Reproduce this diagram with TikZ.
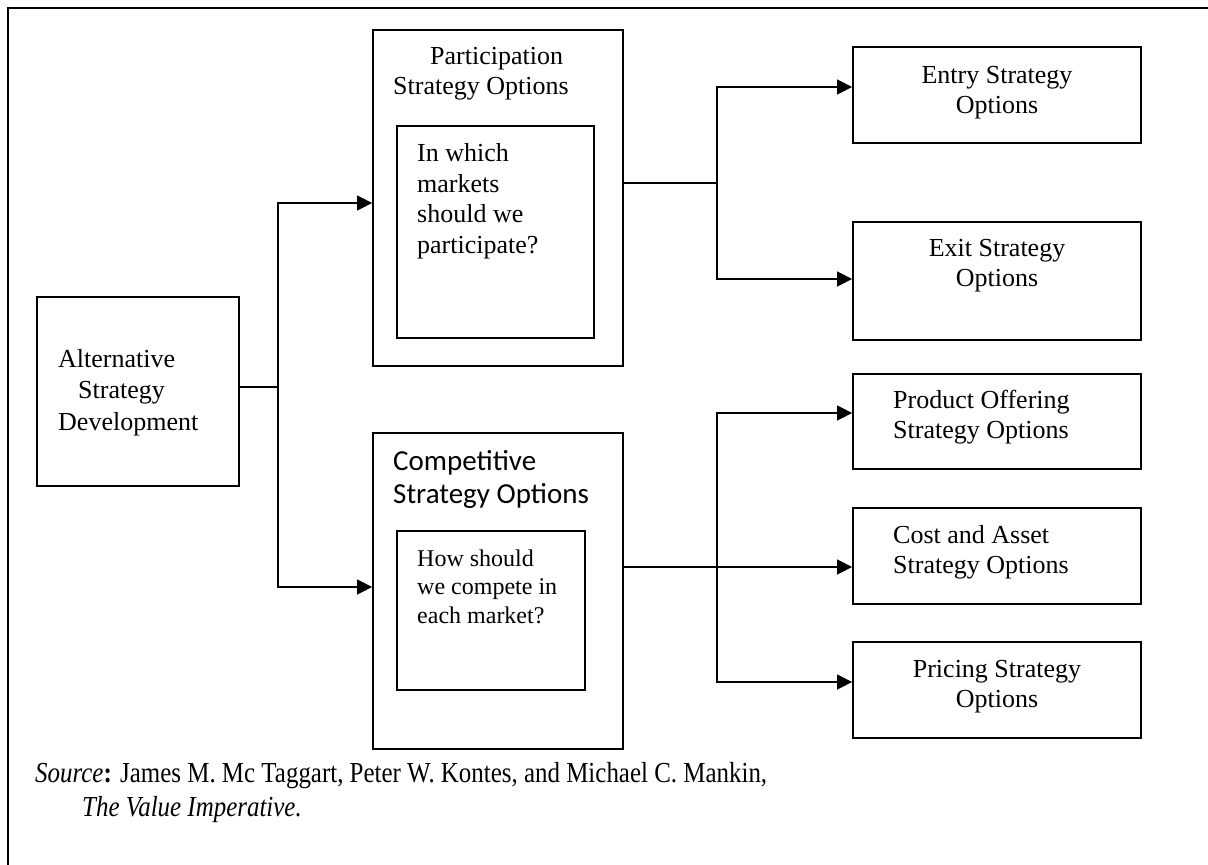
\documentclass[tikz,border=0pt]{standalone}
\usepackage{fontspec}
\setmainfont{Liberation Serif}
\newfontfamily\calibri{Carlito}
\newfontfamily\narrowserif[FakeStretch=0.86]{Liberation Serif}
\usetikzlibrary{arrows.meta}
\begin{document}
\begin{tikzpicture}[x=1pt,y=-1pt,
  box/.style 2 args={draw, line width=1.8pt, inner sep=0pt, minimum width=#1, minimum height=#2},
  txt/.style={inner sep=0pt, anchor=north, align=center, font=\fontsize{26}{30}\selectfont},
  link/.style={line width=1.5pt},
  arr/.style={line width=1.5pt, -{Triangle[length=15pt,width=15pt]}}]
\useasboundingbox (0,0) rectangle (1208,865);
\draw[line width=2.5pt] (8,865) -- (8,8) -- (1208,8);
\node[box={202}{189}] (alt) at (138,391.5) {};
\node[box={250}{336}] (part) at (498,198) {};
\node[box={197}{212}] (partIn) at (495.5,232) {};
\node[box={250}{316}] (comp) at (498,591) {};
\node[box={188}{159}] (compIn) at (491,610.5) {};
\node[box={288}{96}] (entry) at (997,95) {};
\node[box={288}{118}] (exit) at (997,281) {};
\node[box={288}{95}] (prod) at (997,421.5) {};
\node[box={288}{96}] (cost) at (997,556) {};
\node[box={288}{96}] (price) at (997,690) {};
\node[txt, anchor=north west, align=left, font=\fontsize{26}{31.5}\selectfont] (altText) at (58,349) {Alternative\\\hspace*{20pt}Strategy\\Development};
\node[txt, anchor=north west, align=left] (partText) at (393,47.2) {\hspace*{37pt}Participation\\Strategy Options};
\node[txt, anchor=north west, align=left, font=\fontsize{26}{30.7}\selectfont] (partInText) at (417,143.2) {In which\\markets\\should we\\participate?};
\node[txt, anchor=north west, align=left, font=\calibri\fontsize{29}{33}\selectfont] (compText) at (393,450.5) {Competitive\\Strategy Options};
\node[txt, anchor=north west, align=left, font=\fontsize{24}{28.5}\selectfont] (compInText) at (417,549.6) {How should\\we compete in\\each market?};
\node[txt] (entryText) at (997,65.8) {Entry Strategy\\Options};
\node[txt] (exitText) at (997,239.2) {Exit Strategy\\Options};
\node[txt, anchor=north west, align=left] (prodText) at (893,390.2) {Product Offering\\Strategy Options};
\node[txt, anchor=north west, align=left] (costText) at (893,525.2) {Cost and Asset\\Strategy Options};
\node[txt] (priceText) at (997,660.2) {Pricing Strategy\\Options};
\node[txt, anchor=north west, align=left, font=\narrowserif\fontsize{29}{34}\selectfont] (source) at (35,762) {\textit{Source}\textbf{:} James M. Mc Taggart, Peter W. Kontes, and Michael C. Mankin,\\\hspace*{47pt}\textit{The Value Imperative.}};
\draw[link] ([yshift=4.5pt]alt.east) -- ++(38,0) coordinate (splitA);
\draw[arr] (splitA) |- ([yshift=-5pt]part.west);
\draw[arr] (splitA) |- ([yshift=4pt]comp.west);
\draw[link] ([yshift=15pt]part.east) -- ++(93,0) coordinate (splitB);
\draw[arr] (splitB) |- ([yshift=8pt]entry.west);
\draw[arr] (splitB) |- ([yshift=2pt]exit.west);
\draw[link] ([yshift=24pt]comp.east) -- ++(93,0) coordinate (splitC);
\draw[arr] (splitC) |- ([yshift=8.5pt]prod.west);
\draw[arr] (splitC) -- (splitC -| cost.west);
\draw[arr] (splitC) |- ([yshift=8pt]price.west);
\end{tikzpicture}
\end{document}
